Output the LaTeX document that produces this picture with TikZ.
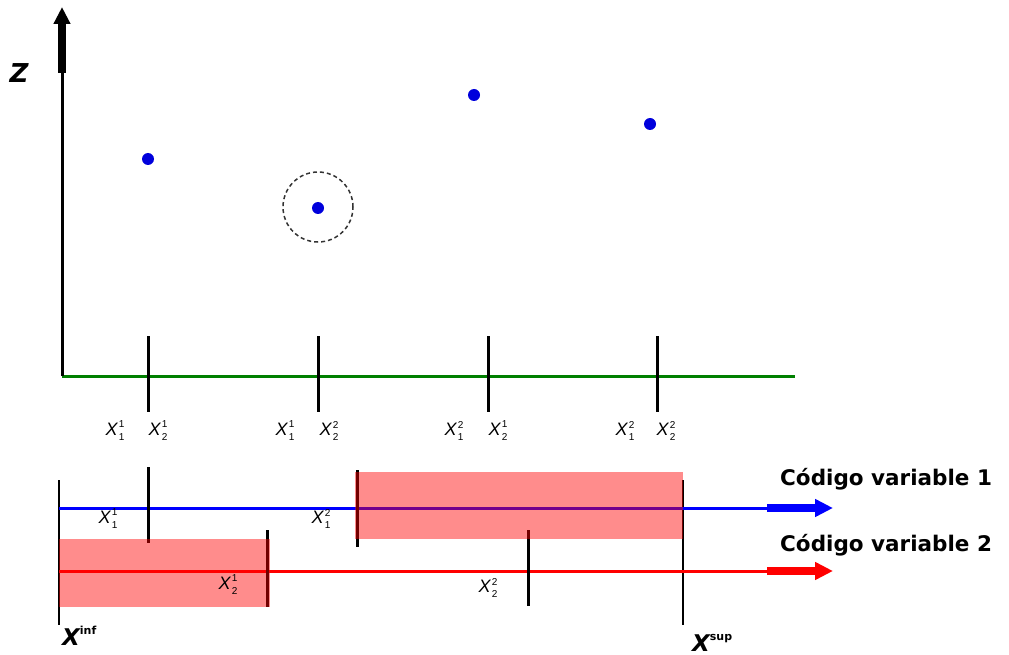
\documentclass[tikz,border=0pt]{standalone}
\usepackage{fontspec}
\setmainfont{Liberation Sans}
\newfontfamily\djb{DejaVu Sans}
\usetikzlibrary{arrows.meta}
\newcommand{\Xlab}[2]{\textit{X}\kern0.5pt\makebox[0pt][l]{\raisebox{0.42em}{\fontsize{10}{10}\selectfont #2}}\raisebox{-0.3em}{\fontsize{10}{10}\selectfont #1}}
\definecolor{axgreen}{RGB}{0,128,0}
\definecolor{dotblue}{RGB}{0,0,220}
\begin{document}
\begin{tikzpicture}[x=1pt,y=-1pt,
  tickline/.style={line width=3pt, black},
  thinline/.style={line width=1.3pt, black},
  dotnode/.style={circle, fill=dotblue, inner sep=0pt, minimum size=12pt},
  lab/.style={font=\fontsize{18}{18}\selectfont, inner sep=0pt},
  band/.style={fill=red, fill opacity=0.45, draw=none},
  codeline/.style={line width=3pt},
  codehead/.style={line width=8pt, -{Triangle[length=18pt,width=17pt]}},
  legend/.style={font=\djb\bfseries\fontsize{21.5}{22}\selectfont, inner sep=0pt, anchor=base west},
  boundlab/.style={font=\djb\bfseries\itshape\fontsize{23}{23}\selectfont, inner sep=0pt, anchor=base west}
]
\useasboundingbox (0,0) rectangle (1009,655);

% ---------------- upper plot ----------------
\coordinate (O) at (62,376);
\coordinate (Zmid) at (62,73);
\coordinate (Ztop) at (62,7);
\coordinate (Xend) at (795,376);
\draw[axgreen, line width=3pt] (O) -- (Xend);
\draw[line width=3pt] (O) -- (Zmid);
\draw[line width=8pt, -{Triangle[length=17pt,width=16pt]}] (Zmid) -- (Ztop);
\node[font=\djb\bfseries\itshape\fontsize{26}{26}\selectfont, inner sep=0pt] (zlab) at (19,73) {Z};

% ticks on x axis
\foreach \n/\x in {a/148,b/318,c/488,d/657}{
  \coordinate (t\n1) at (\x,336);
  \coordinate (t\n2) at (\x,412);
  \draw[tickline] (t\n1) -- (t\n2);
}

% points
\node[dotnode] (p1) at (148,159) {};
\node[dotnode] (p2) at (318,208) {};
\node[dotnode] (p3) at (474,95) {};
\node[dotnode] (p4) at (650,124) {};
\node[circle, draw=black!80, dash pattern=on 4pt off 3pt, line width=1.5pt, minimum size=70pt, inner sep=0pt] (ring) at (318,207) {};

% labels under axis
\node[lab] (l1a) at (115,431) {\Xlab{1}{1}};
\node[lab] (l1b) at (158,431) {\Xlab{2}{1}};
\node[lab] (l2a) at (285,431) {\Xlab{1}{1}};
\node[lab] (l2b) at (329,431) {\Xlab{2}{2}};
\node[lab] (l3a) at (454,431) {\Xlab{1}{2}};
\node[lab] (l3b) at (498,431) {\Xlab{2}{1}};
\node[lab] (l4a) at (625,431) {\Xlab{1}{2}};
\node[lab] (l4b) at (666,431) {\Xlab{2}{2}};

% ---------------- lower part ----------------
\coordinate (inf1) at (59,480);
\coordinate (inf2) at (59,625);
\coordinate (sup1) at (683,480);
\coordinate (sup2) at (683,625);
\draw[thinline] (inf1) -- (inf2);
\draw[thinline] (sup1) -- (sup2);

\coordinate (B0) at (59,508);
\coordinate (Bh) at (767,508);
\coordinate (Bt) at (833,508);
\coordinate (R0) at (59,571);
\coordinate (Rh) at (767,571);
\coordinate (Rt) at (833,571);
\draw[blue, codeline] (B0) -- (Bh);
\draw[blue, codehead] (Bh) -- (Bt);
\draw[red, codeline] (R0) -- (Rh);
\draw[red, codehead] (Rh) -- (Rt);

\coordinate (k1a) at (148,467); \coordinate (k1b) at (148,543);
\coordinate (k2a) at (357,470); \coordinate (k2b) at (357,547);
\coordinate (k3a) at (267,530); \coordinate (k3b) at (267,607);
\coordinate (k4a) at (528,530); \coordinate (k4b) at (528,606);
\draw[tickline] (k1a) -- (k1b);
\draw[tickline] (k2a) -- (k2b);
\draw[tickline] (k3a) -- (k3b);
\draw[tickline] (k4a) -- (k4b);

\coordinate (r1a) at (355,472); \coordinate (r1b) at (683,539);
\coordinate (r2a) at (59,539); \coordinate (r2b) at (270,607);
\fill[band] (r1a) rectangle (r1b);
\fill[band] (r2a) rectangle (r2b);

\node[lab] (m1) at (108,519) {\Xlab{1}{1}};
\node[lab] (m2) at (321,519) {\Xlab{1}{2}};
\node[lab] (m3) at (228,585) {\Xlab{2}{1}};
\node[lab] (m4) at (488,588) {\Xlab{2}{2}};

\node[legend] (leg1) at (780,485) {Código variable 1};
\node[legend] (leg2) at (780,551) {Código variable 2};

\node[boundlab] (xinf) at (62,645) {X\raisebox{0.45em}{\fontsize{11}{11}\selectfont\upshape inf}};
\node[boundlab] (xsup) at (692,651) {X\raisebox{0.45em}{\fontsize{11}{11}\selectfont\upshape sup}};
\end{tikzpicture}
\end{document}
